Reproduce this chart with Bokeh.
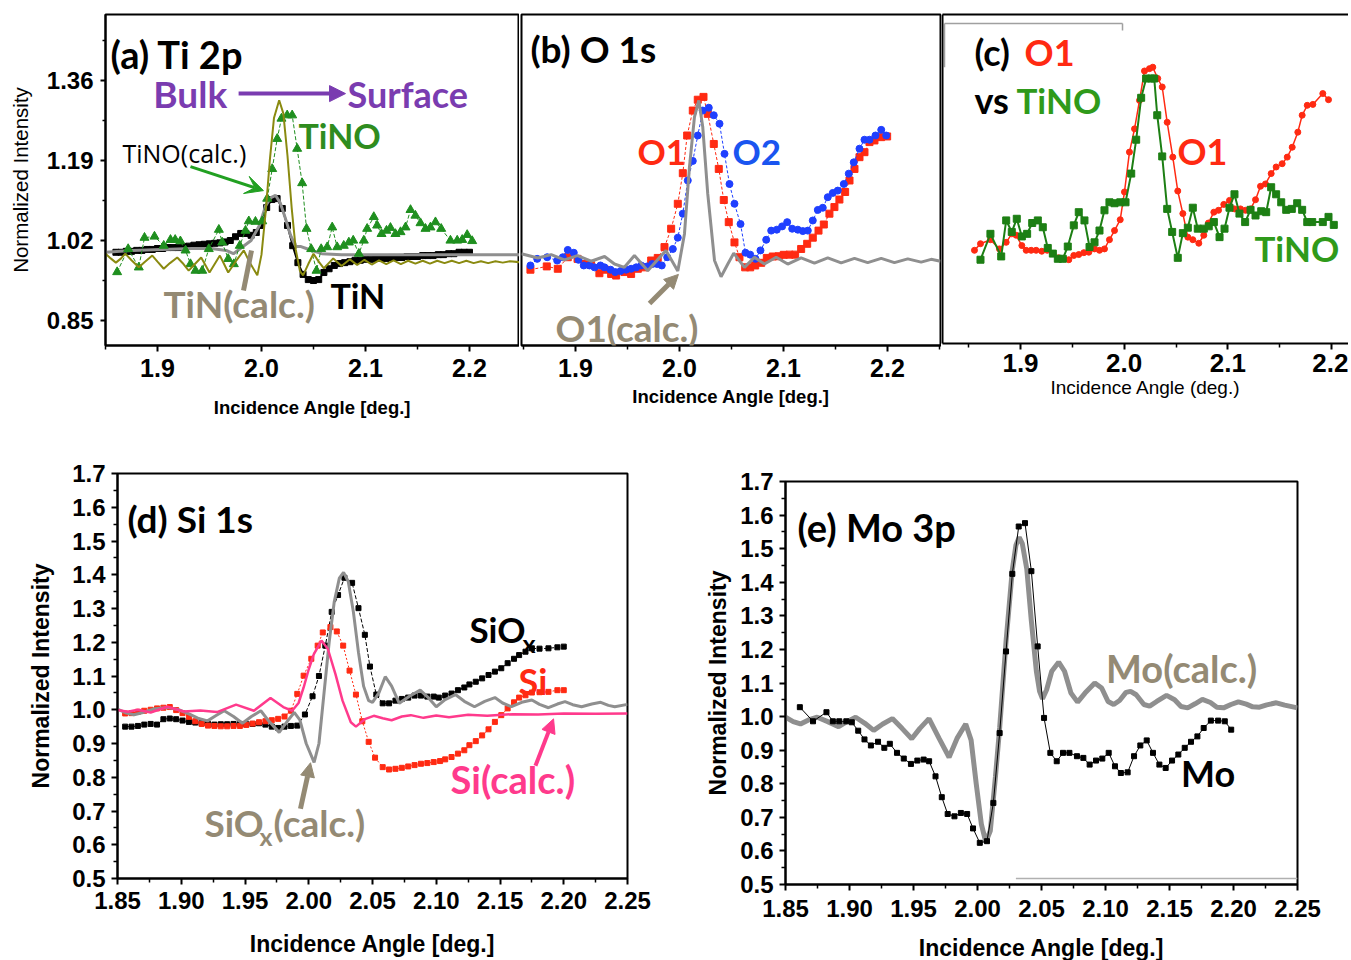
from bokeh.plotting import figure
from bokeh.models import (Range1d, FixedTicker, PrintfTickFormatter, Label, Arrow,
                          NormalHead, VeeHead, LinearAxis, Spacer)
from bokeh.layouts import row, column
from bokeh.embed import file_html
from bokeh.resources import INLINE

# ---------------- DATA ----------------
# (a) Ti 2p
TiN_x = [1.860, 1.865, 1.870, 1.875, 1.880, 1.885, 1.890, 1.895, 1.900, 1.905, 1.910, 1.915,
         1.920, 1.925, 1.930, 1.935, 1.940, 1.945, 1.950, 1.955, 1.960, 1.965, 1.970, 1.975,
         1.980, 1.985, 1.990, 1.995, 2.000, 2.005, 2.010, 2.015, 2.020, 2.025, 2.030, 2.035,
         2.040, 2.045, 2.050, 2.055, 2.060, 2.065, 2.070, 2.075, 2.080, 2.085, 2.090, 2.095,
         2.100, 2.105, 2.110, 2.115, 2.120, 2.125, 2.130, 2.135, 2.140, 2.145, 2.150, 2.155,
         2.160, 2.165, 2.170, 2.175, 2.180, 2.185, 2.190, 2.195, 2.200]
TiN_y = [0.995, 0.995, 0.997, 0.997, 0.999, 0.999, 1.001, 1.001, 1.003, 1.003, 1.005, 1.005,
         1.005, 1.007, 1.008, 1.010, 1.011, 1.012, 1.013, 1.014, 1.015, 1.017, 1.020, 1.028,
         1.035, 1.035, 1.031, 1.037, 1.052, 1.090, 1.107, 1.109, 1.088, 1.052, 1.009, 0.973,
         0.948, 0.937, 0.935, 0.937, 0.952, 0.960, 0.967, 0.971, 0.973, 0.975, 0.978, 0.978,
         0.980, 0.980, 0.982, 0.982, 0.982, 0.984, 0.984, 0.984, 0.986, 0.986, 0.986, 0.988,
         0.988, 0.988, 0.990, 0.990, 0.992, 0.992, 0.995, 0.995, 0.995]
TiNO_pts = [(1.8612, 0.953), (1.8718, 1.002), (1.882, 0.963), (1.8875, 1.026), (1.8971, 1.0285),
            (1.906, 1.009), (1.9125, 1.0215), (1.917, 1.0215), (1.922, 1.0185), (1.927, 0.999),
            (1.9317, 0.970), (1.9365, 0.956), (1.943, 0.956), (1.9493, 1.002), (1.959, 1.043),
            (1.9622, 1.016), (1.968, 0.981), (1.9734, 0.970), (1.9791, 1.009), (1.9846, 1.041),
            (1.9878, 1.061), (1.9942, 1.060), (2.0007, 1.061), (2.0055, 1.109), (2.0103, 1.172),
            (2.0151, 1.236), (2.0192, 1.279), (2.0247, 1.286), (2.0295, 1.286), (2.0343, 1.215),
            (2.0391, 1.142), (2.0433, 1.045), (2.0478, 1.002), (2.0529, 0.956), (2.0574, 1.002),
            (2.0632, 1.006), (2.068, 1.048), (2.0728, 1.006), (2.0791, 1.009), (2.084, 1.016),
            (2.0882, 1.020), (2.0936, 0.992), (2.0984, 1.020), (2.1016, 1.045), (2.108, 1.070),
            (2.1112, 1.052), (2.1154, 1.034), (2.1202, 1.041), (2.124, 1.047), (2.1288, 1.034),
            (2.1337, 1.038), (2.1385, 1.048), (2.1433, 1.085), (2.148, 1.073), (2.1529, 1.057),
            (2.1577, 1.045), (2.1625, 1.048), (2.1673, 1.059), (2.1728, 1.045), (2.1817, 1.020),
            (2.1882, 1.020), (2.193, 1.0215), (2.1978, 1.032), (2.2026, 1.019)]
TiNO_calc_pts = [(1.850, 0.995), (1.875, 0.999), (1.904, 1.001), (1.933, 1.003), (1.952, 1.003),
                 (1.966, 0.999), (1.973, 0.992), (1.981, 1.005), (1.990, 1.020), (1.998, 1.052),
                 (2.004, 1.094), (2.009, 1.111), (2.0135, 1.116), (2.018, 1.100), (2.023, 1.067),
                 (2.028, 1.031), (2.033, 1.007), (2.038, 1.007), (2.043, 1.003), (2.048, 0.999),
                 (2.058, 0.992), (2.077, 0.990), (2.100, 0.990), (2.150, 0.990), (2.200, 0.990),
                 (2.248, 0.990)]
TiN_calc_pts = [(1.850, 0.992), (1.855, 0.982), (1.860, 0.973), (1.865, 0.982), (1.869, 0.992),
                (1.875, 0.978), (1.882, 0.963), (1.888, 0.975), (1.895, 0.988), (1.900, 0.975),
                (1.906, 0.960), (1.912, 0.972), (1.919, 0.984), (1.925, 0.970), (1.930, 0.956),
                (1.936, 0.970), (1.942, 0.984), (1.946, 0.968), (1.950, 0.952), (1.955, 0.970),
                (1.960, 0.988), (1.964, 0.970), (1.968, 0.952), (1.975, 0.975), (1.983, 0.999),
                (1.989, 0.972), (1.996, 0.946), (2.000, 0.990), (2.004, 1.080), (2.008, 1.190),
                (2.012, 1.280), (2.017, 1.318), (2.021, 1.290), (2.025, 1.200), (2.029, 1.090),
                (2.033, 1.000), (2.037, 0.955), (2.040, 0.946), (2.045, 0.970), (2.050, 0.992),
                (2.055, 0.975), (2.060, 0.961), (2.069, 0.982), (2.077, 0.966), (2.085, 0.980),
                (2.092, 0.968), (2.099, 0.979), (2.106, 0.969), (2.113, 0.978), (2.120, 0.970),
                (2.127, 0.978), (2.134, 0.970), (2.141, 0.977), (2.148, 0.971), (2.155, 0.977),
                (2.162, 0.971), (2.169, 0.977), (2.176, 0.972), (2.183, 0.977), (2.190, 0.972),
                (2.197, 0.977), (2.204, 0.972), (2.211, 0.976), (2.218, 0.972), (2.225, 0.976),
                (2.232, 0.973), (2.239, 0.976), (2.248, 0.974)]

# (b) O 1s
O1b_pts = [(1.8567, 0.958), (1.8724, 0.965), (1.883, 0.960), (1.8926, 0.9845), (1.902, 0.981),
           (1.9087, 0.970), (1.915, 0.968), (1.923, 0.9505), (1.9286, 0.958), (1.9343, 0.949),
           (1.9391, 0.9456), (1.9471, 0.953), (1.9535, 0.949), (1.960, 0.960), (1.967, 0.963),
           (1.9728, 0.9775), (1.9791, 0.983), (1.9856, 1.006), (1.992, 1.045), (1.9984, 1.098),
           (2.0032, 1.163), (2.0074, 1.243), (2.0128, 1.296), (2.0176, 1.319), (2.0231, 1.325),
           (2.0272, 1.289), (2.033, 1.225), (2.0378, 1.172), (2.0426, 1.106), (2.0474, 1.059),
           (2.0529, 1.016), (2.0577, 0.9845), (2.0632, 0.963), (2.068, 0.963), (2.0728, 0.967),
           (2.0786, 0.9726), (2.084, 0.983), (2.0897, 0.986), (2.0955, 0.9866), (2.1003, 0.9896),
           (2.1058, 0.990), (2.1112, 0.990), (2.117, 1.002), (2.1228, 1.013), (2.1282, 1.026),
           (2.1337, 1.041), (2.1388, 1.054), (2.1442, 1.077), (2.149, 1.091), (2.1538, 1.107),
           (2.1593, 1.123), (2.1635, 1.1475), (2.1683, 1.172), (2.1731, 1.197), (2.1779, 1.2076),
           (2.1827, 1.229), (2.1875, 1.2325), (2.1939, 1.2395), (2.1997, 1.241)]
O2b_pts = [(1.8567, 0.967), (1.8632, 0.981), (1.8728, 0.9845), (1.8824, 0.9775), (1.8878, 0.9845),
           (1.8926, 1.000), (1.8984, 0.994), (1.9029, 0.979), (1.908, 0.967), (1.9135, 0.967),
           (1.9183, 0.963), (1.924, 0.967), (1.9279, 0.963), (1.9337, 0.958), (1.9382, 0.953),
           (1.9433, 0.955), (1.9487, 0.958), (1.9535, 0.960), (1.9584, 0.963), (1.9632, 0.967),
           (1.969, 0.965), (1.9738, 0.970), (1.9786, 0.970), (1.983, 0.967), (1.9882, 0.9845),
           (1.9936, 1.002), (1.9984, 1.026), (2.0032, 1.077), (2.008, 1.1475), (2.0128, 1.189),
           (2.0176, 1.243), (2.0224, 1.296), (2.0282, 1.302), (2.033, 1.286), (2.0385, 1.268),
           (2.0433, 1.204), (2.0481, 1.140), (2.0529, 1.098), (2.0587, 1.055), (2.0635, 0.994),
           (2.068, 0.990), (2.0731, 0.981), (2.0779, 0.999), (2.0834, 1.0215), (2.0882, 1.041),
           (2.0936, 1.043), (2.0987, 1.050), (2.1036, 1.059), (2.1084, 1.045), (2.1138, 1.043),
           (2.1186, 1.040), (2.1234, 1.041), (2.1282, 1.0625), (2.133, 1.085), (2.1378, 1.0895),
           (2.1426, 1.112), (2.1474, 1.121), (2.1522, 1.126), (2.158, 1.140), (2.1628, 1.162),
           (2.1676, 1.186), (2.1731, 1.215), (2.1779, 1.234), (2.1827, 1.234), (2.1885, 1.243),
           (2.194, 1.255), (2.1988, 1.243)]
O1b_calc_pts = [(1.848, 0.992), (1.8638, 0.983), (1.8766, 0.990), (1.8894, 0.979), (1.902, 0.988),
                (1.915, 0.976), (1.928, 0.986), (1.9375, 0.970), (1.947, 0.963), (1.9567, 0.988),
                (1.9695, 0.956), (1.987, 0.999), (1.9984, 0.955), (2.0048, 1.034), (2.0096, 1.176),
                (2.0144, 1.282), (2.0186, 1.3175), (2.0224, 1.261), (2.0272, 1.119), (2.0337, 0.9775),
                (2.040, 0.943), (2.0465, 0.970), (2.0522, 0.993), (2.0625, 0.963), (2.0721, 0.9845),
                (2.0817, 0.970), (2.093, 0.9845), (2.1041, 0.970), (2.117, 0.983), (2.1298, 0.972),
                (2.1426, 0.983), (2.1555, 0.9726), (2.1683, 0.982), (2.181, 0.973), (2.194, 0.982),
                (2.2067, 0.973), (2.2195, 0.981), (2.2324, 0.974), (2.242, 0.980), (2.251, 0.976)]

# (c) O1 vs TiNO
O1c_pts = [(1.8556, 0.999), (1.8614, 1.013), (1.871, 1.0215), (1.8797, 1.002), (1.8862, 1.016),
           (1.8916, 1.034), (1.8958, 1.031), (1.9013, 1.009), (1.9055, 0.999), (1.9103, 0.999),
           (1.9151, 0.999), (1.9205, 0.997), (1.9258, 0.999), (1.9312, 0.992), (1.9367, 0.983),
           (1.9418, 0.981), (1.9466, 0.979), (1.9514, 0.988), (1.9562, 0.990), (1.9611, 0.994),
           (1.9659, 0.995), (1.9714, 1.002), (1.9762, 0.999), (1.981, 1.002), (1.9858, 1.0215),
           (1.9907, 1.041), (1.9962, 1.064), (2.0003, 1.123), (2.0051, 1.2076), (2.010, 1.257),
           (2.0148, 1.3175), (2.0196, 1.380), (2.0244, 1.385), (2.0276, 1.388), (2.0324, 1.364),
           (2.0367, 1.346), (2.0415, 1.271), (2.0469, 1.197), (2.0517, 1.125), (2.0566, 1.077),
           (2.0614, 1.027), (2.0662, 1.0215), (2.072, 1.014), (2.0768, 1.031), (2.0813, 1.057),
           (2.0865, 1.080), (2.091, 1.084), (2.0961, 1.0965), (2.1016, 1.105), (2.1064, 1.087),
           (2.1122, 1.087), (2.117, 1.084), (2.1219, 1.087), (2.1267, 1.1065), (2.1315, 1.135),
           (2.1363, 1.140), (2.1418, 1.162), (2.1466, 1.176), (2.1524, 1.183), (2.1573, 1.197),
           (2.1621, 1.218), (2.1675, 1.250), (2.1717, 1.286), (2.1766, 1.307), (2.182, 1.309),
           (2.1916, 1.332), (2.1971, 1.319)]
TiNOc_pts = [(1.8614, 0.979), (1.871, 1.034), (1.8814, 0.986), (1.8862, 1.0625), (1.8916, 1.038),
             (1.8964, 1.066), (1.9013, 1.0285), (1.9064, 1.034), (1.9113, 1.057), (1.9167, 1.0625),
             (1.9215, 1.048), (1.9263, 1.004), (1.9312, 0.992), (1.936, 0.981), (1.9408, 0.981),
             (1.9456, 1.007), (1.9514, 1.052), (1.9562, 1.080), (1.9617, 1.0625), (1.9666, 1.006),
             (1.9714, 1.016), (1.9762, 1.041), (1.981, 1.084), (1.9858, 1.101), (1.9907, 1.099),
             (1.9962, 1.101), (2.0013, 1.101), (2.0068, 1.162), (2.0116, 1.234), (2.0164, 1.323),
             (2.0212, 1.364), (2.0261, 1.364), (2.0290, 1.364), (2.0319, 1.286), (2.0367, 1.1985),
             (2.0415, 1.087), (2.0463, 1.038), (2.0517, 0.983), (2.0566, 1.0355), (2.0614, 1.047),
             (2.0662, 1.0895), (2.071, 1.045), (2.0768, 1.045), (2.0816, 1.050), (2.0865, 1.059),
             (2.092, 1.027), (2.0968, 1.045), (2.1016, 1.0895), (2.1064, 1.118), (2.1112, 1.077),
             (2.1167, 1.059), (2.1219, 1.085), (2.1267, 1.073), (2.1322, 1.082), (2.137, 1.080),
             (2.1418, 1.133), (2.1466, 1.118), (2.1515, 1.101), (2.1563, 1.085), (2.1617, 1.087),
             (2.1669, 1.099), (2.1717, 1.085), (2.1766, 1.059), (2.1814, 1.059), (2.1916, 1.059),
             (2.1971, 1.070), (2.2022, 1.053)]
# remnant of a clipped legend frame in panel (c)
c_box_top = [(1.8267, 1.481), (1.9984, 1.481)]
c_box_left = [(1.8267, 1.481), (1.8267, 1.388)]
c_box_right = [(1.9984, 1.481), (1.9984, 1.466)]

# (d) Si 1s
SiOx_pts = [(1.856, 0.950), (1.861, 0.950), (1.866, 0.952), (1.871, 0.956), (1.876, 0.958),
            (1.881, 0.956), (1.886, 0.972), (1.891, 0.974), (1.896, 0.972), (1.901, 0.968),
            (1.906, 0.964), (1.911, 0.962), (1.916, 0.960), (1.921, 0.958), (1.926, 0.956),
            (1.931, 0.957), (1.936, 0.957), (1.941, 0.958), (1.946, 0.958), (1.951, 0.957),
            (1.956, 0.958), (1.961, 0.960), (1.966, 0.956), (1.971, 0.950), (1.976, 0.946),
            (1.981, 0.950), (1.986, 0.952), (1.991, 0.953), (1.997, 0.986), (2.003, 1.040),
            (2.008, 1.100), (2.013, 1.190), (2.018, 1.290), (2.023, 1.340), (2.028, 1.391),
            (2.034, 1.376), (2.039, 1.301), (2.044, 1.222), (2.048, 1.128), (2.053, 1.045),
            (2.058, 1.019), (2.063, 1.019), (2.068, 1.027), (2.073, 1.032), (2.078, 1.036),
            (2.083, 1.042), (2.088, 1.042), (2.093, 1.039), (2.098, 1.039), (2.102, 1.036),
            (2.107, 1.042), (2.112, 1.048), (2.117, 1.058), (2.122, 1.066), (2.126, 1.075),
            (2.131, 1.083), (2.136, 1.093), (2.141, 1.103), (2.146, 1.113), (2.151, 1.123),
            (2.156, 1.138), (2.161, 1.151), (2.165, 1.162), (2.170, 1.172), (2.175, 1.182),
            (2.181, 1.181), (2.188, 1.182), (2.195, 1.185), (2.200, 1.187)]
Si_pts = [(1.856, 0.989), (1.861, 0.990), (1.866, 0.994), (1.871, 0.997), (1.876, 1.000),
          (1.881, 1.004), (1.886, 1.006), (1.891, 1.008), (1.896, 0.999), (1.901, 0.990),
          (1.906, 0.979), (1.911, 0.966), (1.916, 0.958), (1.921, 0.953), (1.926, 0.952),
          (1.931, 0.951), (1.936, 0.951), (1.941, 0.952), (1.946, 0.952), (1.951, 0.955),
          (1.956, 0.959), (1.961, 0.963), (1.966, 0.966), (1.971, 0.969), (1.976, 0.973),
          (1.981, 0.980), (1.986, 0.997), (1.991, 1.047), (1.996, 1.101), (2.002, 1.151),
          (2.007, 1.190), (2.011, 1.229), (2.017, 1.245), (2.022, 1.232), (2.027, 1.190),
          (2.032, 1.116), (2.037, 1.045), (2.042, 0.966), (2.047, 0.905), (2.052, 0.858),
          (2.058, 0.830), (2.063, 0.823), (2.068, 0.825), (2.073, 0.828), (2.078, 0.832),
          (2.083, 0.836), (2.088, 0.840), (2.093, 0.842), (2.098, 0.845), (2.103, 0.848),
          (2.107, 0.853), (2.112, 0.860), (2.117, 0.870), (2.122, 0.880), (2.126, 0.895),
          (2.131, 0.907), (2.136, 0.924), (2.141, 0.942), (2.146, 0.964), (2.151, 0.984),
          (2.156, 1.004), (2.161, 1.022), (2.165, 1.036), (2.170, 1.043), (2.175, 1.051),
          (2.181, 1.052), (2.188, 1.053), (2.195, 1.058), (2.200, 1.058)]
SiOx_calc_pts = [(1.850, 1.002), (1.857, 0.990), (1.863, 0.985), (1.870, 0.992), (1.878, 1.002),
                 (1.889, 1.007), (1.898, 1.000), (1.906, 0.988), (1.913, 0.975), (1.9206, 0.967),
                 (1.927, 0.982), (1.9337, 0.997), (1.941, 0.980), (1.948, 0.960), (1.955, 0.980),
                 (1.9624, 0.997), (1.969, 0.965), (1.9768, 0.933), (1.983, 0.965), (1.9886, 0.992),
                 (1.993, 0.970), (1.998, 0.900), (2.0042, 0.844), (2.008, 0.900), (2.012, 1.050),
                 (2.016, 1.200), (2.020, 1.320), (2.024, 1.390), (2.0273, 1.407), (2.031, 1.380),
                 (2.035, 1.290), (2.039, 1.170), (2.043, 1.070), (2.047, 1.027), (2.050, 1.022),
                 (2.055, 1.050), (2.060, 1.098), (2.065, 1.070), (2.071, 1.019), (2.079, 1.040),
                 (2.0874, 1.058), (2.094, 1.035), (2.100, 1.009), (2.107, 1.030), (2.115, 1.045),
                 (2.122, 1.025), (2.130, 1.009), (2.138, 1.025), (2.146, 1.036), (2.152, 1.020),
                 (2.159, 1.009), (2.167, 1.022), (2.175, 1.029), (2.181, 1.016), (2.188, 1.006),
                 (2.195, 1.017), (2.201, 1.024), (2.207, 1.015), (2.214, 1.009), (2.222, 1.017),
                 (2.229, 1.022), (2.235, 1.013), (2.240, 1.009), (2.250, 1.016)]
Si_calc_pts = [(1.850, 0.999), (1.858, 0.994), (1.866, 1.000), (1.876, 0.992), (1.889, 1.009),
               (1.902, 0.995), (1.915, 0.998), (1.928, 0.993), (1.943, 1.015), (1.957, 0.997),
               (1.970, 1.035), (1.980, 1.008), (1.987, 0.997), (1.992, 1.020), (1.996, 1.066),
               (2.000, 1.120), (2.004, 1.165), (2.010, 1.205), (2.015, 1.180), (2.021, 1.105),
               (2.0265, 1.027), (2.033, 0.963), (2.037, 0.950), (2.044, 0.972), (2.051, 0.982),
               (2.058, 0.975), (2.065, 0.969), (2.073, 0.980), (2.080, 0.984), (2.090, 0.976),
               (2.100, 0.983), (2.110, 0.978), (2.125, 0.985), (2.140, 0.982), (2.160, 0.987),
               (2.180, 0.986), (2.200, 0.989), (2.225, 0.988), (2.250, 0.989)]

# (e) Mo 3p
Mo_pts = [(1.8612, 1.028), (1.8715, 0.986), (1.882, 1.013), (1.887, 0.986), (1.892, 0.986),
          (1.8975, 0.986), (1.9018, 0.983), (1.9068, 0.958), (1.9117, 0.932), (1.9167, 0.914),
          (1.9223, 0.925), (1.9272, 0.907), (1.9315, 0.919), (1.9371, 0.892), (1.9424, 0.875),
          (1.948, 0.859), (1.953, 0.869), (1.9579, 0.872), (1.9622, 0.867), (1.9672, 0.822),
          (1.9721, 0.760), (1.9767, 0.710), (1.982, 0.703), (1.987, 0.713), (1.9919, 0.710),
          (1.9965, 0.667), (2.0018, 0.624), (2.0074, 0.629), (2.0124, 0.743), (2.0173, 0.951),
          (2.0223, 1.194), (2.0272, 1.425), (2.0322, 1.566), (2.0371, 1.576), (2.0421, 1.433),
          (2.047, 1.209), (2.052, 0.996), (2.0569, 0.892), (2.0619, 0.867), (2.0668, 0.892),
          (2.0718, 0.892), (2.0777, 0.882), (2.0827, 0.877), (2.0876, 0.857), (2.0926, 0.869),
          (2.0975, 0.875), (2.1025, 0.892), (2.1074, 0.852), (2.112, 0.832), (2.1173, 0.834),
          (2.1223, 0.882), (2.1272, 0.914), (2.1322, 0.929), (2.1371, 0.892), (2.1421, 0.857),
          (2.147, 0.847), (2.152, 0.869), (2.1569, 0.887), (2.1619, 0.907), (2.1668, 0.925),
          (2.1718, 0.941), (2.1767, 0.966), (2.1823, 0.988), (2.188, 0.988), (2.1932, 0.986),
          (2.1982, 0.961)]
Mo_calc_pts = [(1.850, 0.998), (1.856, 0.985), (1.8617, 0.978), (1.868, 0.990), (1.8748, 0.998),
               (1.883, 0.985), (1.8915, 0.970), (1.898, 0.985), (1.9048, 0.998), (1.912, 0.980),
               (1.9189, 0.959), (1.926, 0.978), (1.9335, 0.994), (1.941, 0.965), (1.9486, 0.934),
               (1.955, 0.965), (1.9621, 0.994), (1.970, 0.935), (1.9778, 0.879), (1.984, 0.935),
               (1.9908, 0.978), (1.995, 0.930), (1.999, 0.800), (2.003, 0.680), (2.0065, 0.626),
               (2.010, 0.660), (2.014, 0.820), (2.0173, 0.966), (2.0223, 1.224), (2.0272, 1.437),
               (2.030, 1.510), (2.0326, 1.534), (2.035, 1.515), (2.0385, 1.440), (2.0421, 1.284),
               (2.046, 1.135), (2.0485, 1.075), (2.0508, 1.053), (2.054, 1.080), (2.058, 1.135),
               (2.0634, 1.162), (2.068, 1.135), (2.073, 1.070), (2.0782, 1.043), (2.084, 1.070),
               (2.0916, 1.100), (2.097, 1.085), (2.102, 1.045), (2.1064, 1.036), (2.111, 1.048),
               (2.116, 1.072), (2.1196, 1.075), (2.124, 1.065), (2.130, 1.036), (2.1345, 1.031),
               (2.140, 1.045), (2.1477, 1.063), (2.154, 1.050), (2.159, 1.030), (2.1642, 1.026),
               (2.170, 1.038), (2.1757, 1.051), (2.182, 1.042), (2.187, 1.028), (2.1922, 1.026),
               (2.198, 1.036), (2.2038, 1.044), (2.210, 1.037), (2.215, 1.029), (2.2203, 1.028),
               (2.226, 1.035), (2.2335, 1.041), (2.240, 1.034), (2.250, 1.026)]
Mo_baseline_pts = [(2.030, 0.518), (2.250, 0.518)]

# tick values
ticks_top_x = [1.9, 2.0, 2.1, 2.2]
ticks_top_x_minor = [1.85, 1.95, 2.05, 2.15, 2.25]
ticks_a_y = [0.85, 1.02, 1.19, 1.36]
ticks_a_y_minor = [0.935, 1.105, 1.275, 1.445]
ticks_bot_x = [1.85, 1.90, 1.95, 2.00, 2.05, 2.10, 2.15, 2.20, 2.25]
ticks_bot_x_minor = [1.875, 1.925, 1.975, 2.025, 2.075, 2.125, 2.175, 2.225]
ticks_bot_y = [0.5, 0.6, 0.7, 0.8, 0.9, 1.0, 1.1, 1.2, 1.3, 1.4, 1.5, 1.6, 1.7]
ticks_bot_y_minor = [0.55, 0.65, 0.75, 0.85, 0.95, 1.05, 1.15, 1.25, 1.35, 1.45, 1.55, 1.65]

# ---------------- STYLE ----------------
FONT_AX = "Liberation Sans"
FONT_LB = "Lato"
C_CALC_TXT = "#948a74"
C_GRAY = "#8f8f8f"
C_OLIVE = "#8a8a10"
C_GREEN = "#1f8f1f"
C_GREEN_T = "#2f8c1e"
C_PURPLE = "#7a3cb0"
C_RED = "#ff2a12"
C_BLUE = "#1f3fff"
C_PINK = "#ff3a8c"


def xy(pts):
    return [p[0] for p in pts], [p[1] for p in pts]


def make_fig(xr, yr, fw, fh, l, r, t, b, yaxis=True, outline=True):
    p = figure(x_range=Range1d(*xr), y_range=Range1d(*yr), frame_width=fw, frame_height=fh,
               min_border_left=l, min_border_right=r, min_border_top=t, min_border_bottom=b,
               toolbar_location=None, output_backend="svg",
               y_axis_location="left" if yaxis else None)
    p.grid.visible = False
    p.outline_line_color = "black" if outline else None
    p.outline_line_width = 2
    p.background_fill_color = "white"
    p.border_fill_color = "white"
    return p


def style_axis(ax, ticks, minor, fmt, lsize, lstyle, title, tsize, tstyle, lstand, tstand,
               tick_out=6, minor_out=4):
    ax.ticker = FixedTicker(ticks=ticks, minor_ticks=minor)
    ax.formatter = PrintfTickFormatter(format=fmt)
    ax.major_label_text_font = FONT_AX
    ax.major_label_text_font_size = f"{lsize}px"
    ax.major_label_text_font_style = lstyle
    ax.major_label_text_color = "black"
    ax.major_label_standoff = lstand
    ax.axis_label = title
    ax.axis_label_text_font = FONT_AX
    ax.axis_label_text_font_size = f"{tsize}px"
    ax.axis_label_text_font_style = tstyle
    ax.axis_label_text_color = "black"
    ax.axis_label_standoff = tstand
    ax.axis_line_width = 2
    ax.axis_line_color = "black"
    ax.major_tick_in = 0
    ax.major_tick_out = tick_out
    ax.minor_tick_in = 0
    ax.minor_tick_out = minor_out
    ax.major_tick_line_width = 2
    ax.minor_tick_line_width = 1.5


def lab(p, x, y, text, size, color, style="bold", font=FONT_LB):
    p.add_layout(Label(x=x, y=y, text=text, text_font=font, text_font_size=f"{size}px",
                       text_font_style=style, text_color=color, text_align="left",
                       text_baseline="middle"))


def arr(p, x0, y0, x1, y1, color, width, head="normal", size=14):
    if head == "normal":
        h = NormalHead(size=size, fill_color=color, line_color=color, line_width=1)
    elif head == "vee":
        h = VeeHead(size=size, fill_color=color, line_color=color, line_width=1)
    else:
        h = None
    p.add_layout(Arrow(end=h, x_start=x0, y_start=y0, x_end=x1, y_end=y1,
                       line_color=color, line_width=width))


# ---------------- (a) ----------------
pa = make_fig((1.85, 2.2481), (0.797, 1.500), 414, 331, 105, 0, 14, 90)
style_axis(pa.xaxis[0], ticks_top_x, ticks_top_x_minor, "%.1f", 25, "bold",
           "Incidence Angle [deg.]", 18.5, "bold", 7, 17)
style_axis(pa.yaxis[0], ticks_a_y, ticks_a_y_minor, "%.2f", 24, "bold",
           "Normalized Intensity", 20.5, "normal", 7, 12, tick_out=5, minor_out=3)
pa.line(TiN_x, TiN_y, color="black", line_width=2)
pa.scatter(TiN_x, TiN_y, marker="square", size=6, color="black")
x, y = xy(TiNO_calc_pts)
pa.line(x, y, color=C_GRAY, line_width=3)
x, y = xy(TiNO_pts)
pa.line(x, y, color=C_GREEN, line_width=1, line_dash="4 2")
pa.scatter(x, y, marker="triangle", size=9, color=C_GREEN)
x, y = xy(TiN_calc_pts)
pa.line(x, y, color=C_OLIVE, line_width=2)
lab(pa, 1.8548, 1.417, "(a) Ti 2p", 38, "black")
lab(pa, 1.896, 1.332, "Bulk", 37, C_PURPLE)
arr(pa, 1.978, 1.332, 2.0808, 1.332, C_PURPLE, 4, "normal", 16)
lab(pa, 2.0827, 1.332, "Surface", 36, C_PURPLE)
lab(pa, 2.0356, 1.243, "TiNO", 34, C_GREEN_T)
lab(pa, 1.8663, 1.205, "TiNO(calc.)", 25, "black", style="normal", font="Open Sans")
arr(pa, 1.9317, 1.177, 2.0019, 1.126, "#22a022", 3, "vee", 18)
lab(pa, 1.9058, 0.886, "TiN(calc.)", 37, C_CALC_TXT)
arr(pa, 1.9827, 0.914, 1.9904, 0.999, C_CALC_TXT, 5, None)
lab(pa, 2.0663, 0.903, "TiN", 34, "black")

# ---------------- (b) ----------------
pb = make_fig((1.8481, 2.251), (0.797, 1.500), 419, 331, 2, 1, 14, 90, yaxis=False)
style_axis(pb.xaxis[0], ticks_top_x, ticks_top_x_minor, "%.1f", 25, "bold",
           "Incidence Angle [deg.]", 18.5, "bold", 7, 6)
x, y = xy(O1b_pts)
pb.line(x, y, color=C_RED, line_width=1, line_dash="3 2")
pb.scatter(x, y, marker="square", size=7, color=C_RED)
x, y = xy(O2b_pts)
pb.line(x, y, color=C_BLUE, line_width=1, line_dash="3 2")
pb.scatter(x, y, marker="circle", size=7, color=C_BLUE)
x, y = xy(O1b_calc_pts)
pb.line(x, y, color=C_GRAY, line_width=3)
lab(pb, 1.8567, 1.428, "(b) O 1s", 37, "black")
lab(pb, 1.9596, 1.211, "O1", 35, C_RED)
lab(pb, 2.051, 1.211, "O2", 35, "#1a55f0")
lab(pb, 1.8808, 0.835, "O1(calc.)", 37, C_CALC_TXT)
arr(pb, 1.9712, 0.886, 1.999, 0.948, C_CALC_TXT, 5, "normal", 14)

# ---------------- (c) ----------------
pc = make_fig((1.82476, 2.21639), (0.801, 1.500), 406, 329, 1, 0, 14, 92, yaxis=False, outline=False)
style_axis(pc.xaxis[0], ticks_top_x, ticks_top_x_minor, "%.1f", 26, "bold",
           "Incidence Angle (deg.)", 19, "normal", 4, 2)
for loc in ("left", "above"):
    bx = LinearAxis(ticker=FixedTicker(ticks=[]), major_label_text_font_size="0px",
                    axis_line_width=2, axis_line_color="black",
                    major_tick_line_color=None, minor_tick_line_color=None,
                    major_label_standoff=0)
    pc.add_layout(bx, loc)
for seg in (c_box_top, c_box_left, c_box_right):
    x, y = xy(seg)
    pc.line(x, y, color="#a0a0a0", line_width=1.5)
x, y = xy(O1c_pts)
pc.line(x, y, color=C_RED, line_width=1.5)
pc.scatter(x, y, marker="circle", size=6, color=C_RED)
x, y = xy(TiNOc_pts)
pc.line(x, y, color="#1d7f14", line_width=2)
pc.scatter(x, y, marker="square", size=7, color="#1d7f14")
lab(pc, 1.8556, 1.4195, "(c)", 36, "black")
lab(pc, 1.9039, 1.4195, "O1", 36, C_RED)
lab(pc, 1.8556, 1.3175, "vs", 36, "black")
lab(pc, 1.8961, 1.3175, "TiNO", 35, "#2f9a1a")
lab(pc, 2.0514, 1.211, "O1", 36, C_RED)
lab(pc, 2.1257, 1.003, "TiNO", 35, "#2f9a1a")

# ---------------- (d) ----------------
pd_ = make_fig((1.85, 2.25), (0.5, 1.7), 510, 405, 117, 73, 38, 82)
style_axis(pd_.xaxis[0], ticks_bot_x, ticks_bot_x_minor, "%.2f", 24, "bold",
           "Incidence Angle [deg.]", 23, "bold", 7, 19)
style_axis(pd_.yaxis[0], ticks_bot_y, ticks_bot_y_minor, "%.1f", 24, "bold",
           "Normalized Intensity", 23, "bold", 6, 15)
x, y = xy(SiOx_pts)
pd_.line(x, y, color="black", line_width=1, line_dash="4 2")
pd_.scatter(x, y, marker="square", size=5, color="black")
x, y = xy(Si_pts)
pd_.line(x, y, color=C_RED, line_width=1, line_dash="2 2")
pd_.scatter(x, y, marker="square", size=5, color=C_RED)
x, y = xy(SiOx_calc_pts)
pd_.line(x, y, color=C_GRAY, line_width=3)
x, y = xy(Si_calc_pts)
pd_.line(x, y, color=C_PINK, line_width=2.5)
lab(pd_, 1.8578, 1.566, "(d) Si 1s", 37, "black")
lab(pd_, 2.126, 1.24, "SiO", 35, "black")
lab(pd_, 2.1676, 1.199, "x", 25, "black")
lab(pd_, 2.1645, 1.086, "Si", 36, C_RED)
lab(pd_, 2.1112, 0.7956, "Si(calc.)", 38, C_PINK)
arr(pd_, 2.1778, 0.834, 2.192, 0.973, C_PINK, 4, "normal", 14)
lab(pd_, 1.9182, 0.665, "SiO", 37, C_CALC_TXT)
lab(pd_, 1.9614, 0.627, "x", 25, C_CALC_TXT)
lab(pd_, 1.9724, 0.665, "(calc.)", 37, C_CALC_TXT)
arr(pd_, 1.9935, 0.7067, 2.0014, 0.843, C_CALC_TXT, 5, "normal", 14)

# ---------------- (e) ----------------
pe = make_fig((1.85, 2.25), (0.5, 1.7), 512, 403, 85, 46, 38, 76)
style_axis(pe.xaxis[0], ticks_bot_x, ticks_bot_x_minor, "%.2f", 24, "bold",
           "Incidence Angle [deg.]", 23, "bold", 9, 15)
style_axis(pe.yaxis[0], ticks_bot_y, ticks_bot_y_minor, "%.1f", 24, "bold",
           "Normalized Intensity", 23, "bold", 6, 6)
x, y = xy(Mo_baseline_pts)
pe.line(x, y, color="#b0b0b0", line_width=1.5)
x, y = xy(Mo_calc_pts)
pe.line(x, y, color=C_GRAY, line_width=5)
x, y = xy(Mo_pts)
pe.line(x, y, color="black", line_width=1)
pe.scatter(x, y, marker="square", size=5, color="black")
lab(pe, 1.8594, 1.566, "(e) Mo 3p", 38, "black")
lab(pe, 2.1004, 1.146, "Mo(calc.)", 38, C_CALC_TXT)
lab(pe, 2.159, 0.8306, "Mo", 36, "black")

layout = column(row(pa, pb, pc), row(pd_, column(Spacer(height=8), pe)))
open("out.html", "w").write(file_html(layout, INLINE))
